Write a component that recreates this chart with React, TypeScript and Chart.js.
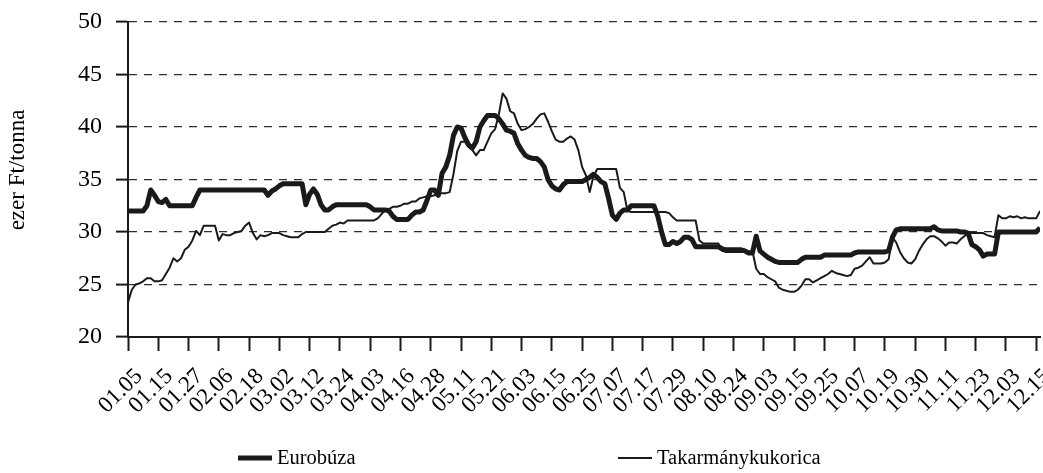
import React, { useEffect, useRef } from 'react';
import { Chart, registerables } from 'chart.js';

Chart.register(...registerables);

// Tick labels shown every 8 trading days
const tickLabels = [
  '01.05', '01.15', '01.27', '02.06', '02.18', '03.02', '03.12', '03.24',
  '04.03', '04.16', '04.28', '05.11', '05.21', '06.03', '06.15', '06.25',
  '07.07', '07.17', '07.29', '08.10', '08.24', '09.03', '09.15', '09.25',
  '10.07', '10.19', '10.30', '11.11', '11.23', '12.03', '12.15',
];
const POINTS_PER_LABEL = 8;

const seriesNames = ['Eurobúza', 'Takarmánykukorica'];

// ezer Ft/tonna
const eurobuza = [
  32.0, 32.0, 32.0, 32.0, 32.0, 32.5, 34.0, 33.5,
  32.9, 32.8, 33.1, 32.5, 32.5, 32.5, 32.5, 32.5,
  32.5, 32.5, 33.3, 34.0, 34.0, 34.0, 34.0, 34.0,
  34.0, 34.0, 34.0, 34.0, 34.0, 34.0, 34.0, 34.0,
  34.0, 34.0, 34.0, 34.0, 34.0, 33.5, 33.9, 34.1,
  34.4, 34.6, 34.6, 34.6, 34.6, 34.6, 34.6, 32.6,
  33.6, 34.1, 33.6, 32.6, 32.1, 32.1, 32.4, 32.6,
  32.6, 32.6, 32.6, 32.6, 32.6, 32.6, 32.6, 32.6,
  32.4, 32.1, 32.1, 32.1, 32.1, 32.0, 31.5, 31.2,
  31.2, 31.2, 31.2, 31.6, 31.9, 31.9, 32.1, 33.0,
  34.0, 34.0, 33.5, 35.6, 36.2, 37.3, 39.2, 40.0,
  39.9, 39.0, 38.3, 38.0, 38.6, 40.0, 40.6, 41.1,
  41.1, 41.1, 40.8, 40.3, 39.7, 39.6, 39.4, 38.4,
  37.8, 37.3, 37.1, 37.0, 37.0, 36.7, 36.2, 35.0,
  34.4, 34.1, 34.0, 34.5, 34.8, 34.8, 34.8, 34.8,
  34.8, 35.0, 35.2, 35.5, 35.2, 34.8, 34.6, 33.2,
  31.6, 31.2, 31.8, 32.1, 32.1, 32.5, 32.5, 32.5,
  32.5, 32.5, 32.5, 32.5, 31.5, 30.0, 28.8, 28.8,
  29.1, 28.9, 29.1, 29.5, 29.5, 29.3, 28.6, 28.6,
  28.6, 28.6, 28.6, 28.6, 28.6, 28.4, 28.3, 28.3,
  28.3, 28.3, 28.3, 28.2, 28.0, 28.0, 29.6, 28.2,
  27.9, 27.6, 27.4, 27.2, 27.1, 27.1, 27.1, 27.1,
  27.1, 27.1, 27.4, 27.6, 27.6, 27.6, 27.6, 27.6,
  27.8, 27.8, 27.8, 27.8, 27.8, 27.8, 27.8, 27.8,
  28.0, 28.1, 28.1, 28.1, 28.1, 28.1, 28.1, 28.1,
  28.1, 28.2, 29.5, 30.2, 30.3, 30.3, 30.3, 30.3,
  30.3, 30.3, 30.3, 30.3, 30.3, 30.5, 30.2, 30.1,
  30.1, 30.1, 30.1, 30.1, 30.0, 30.0, 29.9, 28.8,
  28.6, 28.3, 27.7, 27.9, 27.9, 27.9, 30.0, 30.0,
  30.0, 30.0, 30.0, 30.0, 30.0, 30.0, 30.0, 30.0,
  30.0, 30.4,
];

const takarmanykukorica = [
  23.3, 24.5, 25.0, 25.1, 25.3, 25.6, 25.6, 25.3,
  25.3, 25.4, 26.0, 26.6, 27.5, 27.2, 27.5, 28.3,
  28.6, 29.2, 30.1, 29.7, 30.6, 30.6, 30.6, 30.6,
  29.2, 29.8, 29.7, 29.7, 29.9, 30.0, 30.1, 30.6,
  30.9, 29.9, 29.3, 29.7, 29.6, 29.7, 29.9, 29.9,
  29.9, 29.7, 29.6, 29.5, 29.5, 29.5, 29.8, 30.0,
  30.0, 30.0, 30.0, 30.0, 30.0, 30.3, 30.6, 30.7,
  30.9, 30.8, 31.1, 31.1, 31.1, 31.1, 31.1, 31.1,
  31.1, 31.1, 31.3, 31.7, 32.1, 32.2, 32.4, 32.4,
  32.5, 32.7, 32.7, 32.9, 32.9, 33.2, 33.3, 33.4,
  33.4, 33.5, 33.6, 33.7, 33.7, 33.8, 35.5, 37.7,
  38.6, 38.6, 38.1, 37.8, 37.3, 37.8, 37.8, 38.6,
  39.4, 39.8, 41.2, 43.2, 42.7, 41.5, 41.3, 40.3,
  39.7, 39.8, 40.0, 40.3, 40.8, 41.2, 41.3, 40.5,
  39.6, 38.8, 38.6, 38.6, 38.9, 39.1, 38.8, 37.8,
  36.2, 35.4, 33.8, 35.3, 36.0, 36.0, 36.0, 36.0,
  36.0, 36.0, 34.2, 33.8, 32.0, 31.9, 31.9, 31.9,
  31.9, 31.9, 31.9, 31.9, 31.9, 31.9, 31.9, 31.8,
  31.4, 31.1, 31.1, 31.1, 31.1, 31.1, 31.1, 29.2,
  28.9, 28.9, 28.9, 28.9, 28.9, 28.2, 28.1, 28.1,
  28.1, 28.1, 28.1, 28.1, 28.1, 28.2, 26.5, 26.0,
  26.0, 25.7, 25.5, 25.3, 24.7, 24.5, 24.4, 24.3,
  24.3, 24.5, 24.9, 25.5, 25.5, 25.2, 25.4, 25.6,
  25.8, 26.0, 26.3, 26.1, 26.0, 25.9, 25.8, 25.9,
  26.5, 26.6, 26.8, 27.2, 27.6, 27.0, 27.0, 27.0,
  27.1, 27.4, 29.5, 29.0, 28.1, 27.5, 27.1, 27.0,
  27.4, 28.2, 28.8, 29.3, 29.6, 29.6, 29.4, 29.1,
  28.7, 29.0, 29.0, 28.9, 29.3, 29.6, 29.9, 29.9,
  29.9, 29.9, 29.9, 29.7, 29.6, 29.5, 31.6, 31.3,
  31.3, 31.5, 31.4, 31.5, 31.3, 31.4, 31.3, 31.3,
  31.3, 32.0,
];

const yTitle = 'ezer Ft/tonna';
const FONT = "'Liberation Serif', 'Times New Roman', serif";
const INK = '#1a1a1a';

// Draws the bottom legend and the y-axis title
const annotationsPlugin = {
  id: 'bottomLegendAndTitle',
  afterDraw(chart: any) {
    const { ctx } = chart;
    const y = 458;
    const items = [
      { x: 238, width: 5, label: seriesNames[0] },
      { x: 618, width: 2, label: seriesNames[1] },
    ];
    ctx.save();
    ctx.font = `20.5px ${FONT}`;
    ctx.fillStyle = '#000';
    ctx.textBaseline = 'middle';
    ctx.textAlign = 'left';
    items.forEach((it) => {
      ctx.strokeStyle = INK;
      ctx.lineWidth = it.width;
      ctx.beginPath();
      ctx.moveTo(it.x, y);
      ctx.lineTo(it.x + 34, y);
      ctx.stroke();
      ctx.fillText(it.label, it.x + 39, y + 1);
    });
    // y-axis title, rotated
    ctx.font = `23px ${FONT}`;
    ctx.textAlign = 'center';
    ctx.translate(18, 170);
    ctx.rotate(-Math.PI / 2);
    ctx.fillText(yTitle, 0, 0);
    ctx.restore();
  },
};

export default function App() {
  const ref = useRef<HTMLCanvasElement | null>(null);

  useEffect(() => {
    if (!ref.current) return;
    const toPoints = (arr: number[]) => arr.map((v, i) => ({ x: i, y: v }));
    const lastIndex = eurobuza.length - 1;
    const chart = new Chart(ref.current, {
      type: 'line',
      data: {
        datasets: [
          {
            label: seriesNames[1],
            data: toPoints(takarmanykukorica),
            borderColor: INK,
            borderWidth: 2,
            pointRadius: 0,
            tension: 0,
            borderJoinStyle: 'round',
          },
          {
            label: seriesNames[0],
            data: toPoints(eurobuza),
            borderColor: INK,
            borderWidth: 5,
            pointRadius: 0,
            tension: 0,
            borderJoinStyle: 'round',
          },
        ],
      },
      options: {
        responsive: false,
        animation: false,
        events: [],
        layout: { padding: { left: 0, top: 22, right: 3, bottom: 33 } },
        plugins: {
          legend: { display: false },
          tooltip: { enabled: false },
          title: { display: false },
        },
        scales: {
          x: {
            type: 'linear',
            min: 0,
            max: lastIndex,
            afterBuildTicks: (scale: any) => {
              scale.ticks = tickLabels.map((_, k) => ({ value: k * POINTS_PER_LABEL }));
            },
            afterFit: (scale: any) => {
              scale.height = 103;
              scale.paddingLeft = 0;
              scale.paddingRight = 0;
            },
            grid: {
              drawOnChartArea: false,
              drawTicks: true,
              tickLength: 14,
              tickWidth: 2,
              tickColor: INK,
              color: INK,
            },
            border: { display: true, color: INK, width: 2 },
            ticks: {
              autoSkip: false,
              minRotation: 45,
              maxRotation: 45,
              labelOffset: 11,
              padding: 12,
              color: '#000',
              font: { family: FONT, size: 23 },
              callback: (value: any) => {
                const k = Math.round(Number(value) / POINTS_PER_LABEL);
                return tickLabels[k] ?? '';
              },
            },
          },
          y: {
            min: 20,
            max: 50,
            afterFit: (scale: any) => {
              scale.width = 128;
              scale.paddingTop = 0;
              scale.paddingBottom = 0;
            },
            ticks: {
              stepSize: 5,
              padding: 14,
              color: '#000',
              font: { family: FONT, size: 24 },
            },
            grid: {
              color: (c: any) => (c.tick && c.tick.value === 20 ? 'rgba(0,0,0,0)' : '#2e2e2e'),
              lineWidth: 1.2,
              drawTicks: true,
              tickLength: 12,
              tickColor: INK,
              tickWidth: 2,
            },
            border: { display: true, color: INK, width: 2, dash: [8, 7] },
            title: { display: false },
          },
        },
      },
      plugins: [annotationsPlugin],
    });
    return () => chart.destroy();
  }, []);

  return (
    <div style={{ position: 'absolute', left: 0, top: 0, width: 1043, height: 473, background: '#fff' }}>
      <canvas ref={ref} width={1043} height={473} />
    </div>
  );
}
